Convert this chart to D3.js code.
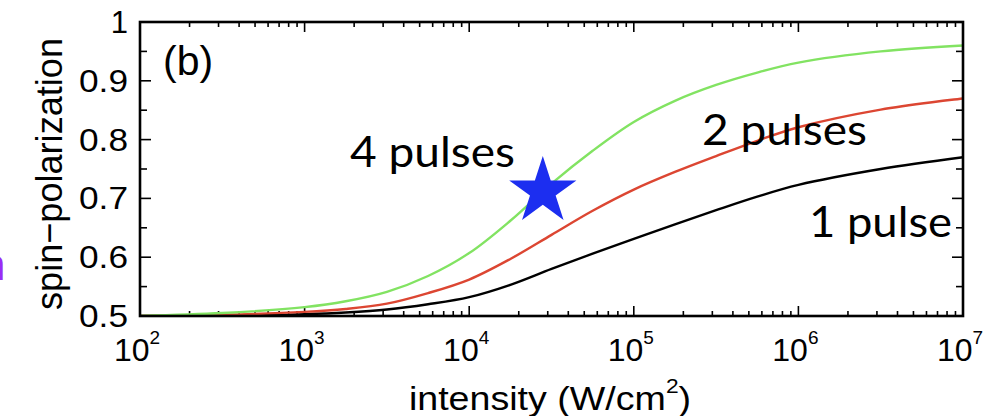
<!DOCTYPE html>
<html>
<head>
<meta charset="utf-8">
<script src="https://cdn.jsdelivr.net/npm/d3@7"></script>
<style>
html,body{margin:0;padding:0;background:#fff;}
svg{display:block;}
</style>
</head>
<body>
<svg id="chart" width="986" height="416"></svg>
<script>
// ---- data ----
const intensity = [100, 316, 1000, 1778, 3162, 5623, 10000, 17783, 31623, 56234, 100000, 177828, 316228, 562341, 1000000, 3162278, 10000000];
const onePulse  = [0.500, 0.500, 0.503, 0.506, 0.511, 0.520, 0.532, 0.553, 0.580, 0.606, 0.631, 0.656, 0.680, 0.703, 0.723, 0.750, 0.770];
const twoPulses = [0.500, 0.502, 0.507, 0.512, 0.521, 0.539, 0.562, 0.597, 0.638, 0.679, 0.715, 0.745, 0.772, 0.798, 0.821, 0.851, 0.870];
const fourPulses= [0.500, 0.505, 0.515, 0.525, 0.541, 0.568, 0.607, 0.662, 0.725, 0.781, 0.830, 0.866, 0.893, 0.914, 0.931, 0.950, 0.960];
const seriesNames = ["1 pulse", "2 pulses", "4 pulses"];
const seriesColors = ["#000000", "#dc4632", "#82e362"];
const starPoint = {intensity: 28000, value: 0.712};
const xTickExponents = [2, 3, 4, 5, 6, 7];
const yTickValues = [0.5, 0.6, 0.7, 0.8, 0.9, 1];
const yTickLabels = ["0.5", "0.6", "0.7", "0.8", "0.9", "1"];

// ---- layout ----
const svg = d3.select("#chart");
const L = 140, R = 963, T = 22, B = 316;
const x = d3.scaleLog().domain([1e2, 1e7]).range([L, R]);
const y = d3.scaleLinear().domain([0.5, 1]).range([B, T]);

// minor tick positions
const xMinor = [];
for (let e = 2; e < 7; e++) for (let m = 2; m <= 9; m++) xMinor.push(m * Math.pow(10, e));
const xMajor = xTickExponents.map(e => Math.pow(10, e));
const yMinor = d3.range(0.55, 1.0, 0.1);

const tickG = svg.append("g").attr("stroke", "#000").attr("stroke-width", 1.6);
function xTicks(yy, dir) {
  tickG.selectAll(null).data(xMajor).enter().append("line")
    .attr("x1", d => x(d)).attr("x2", d => x(d)).attr("y1", yy).attr("y2", yy + dir * 10);
  tickG.selectAll(null).data(xMinor).enter().append("line")
    .attr("x1", d => x(d)).attr("x2", d => x(d)).attr("y1", yy).attr("y2", yy + dir * 5);
}
function yTicks(xx, dir) {
  tickG.selectAll(null).data(yTickValues).enter().append("line")
    .attr("y1", d => y(d)).attr("y2", d => y(d)).attr("x1", xx).attr("x2", xx + dir * 11);
  tickG.selectAll(null).data(yMinor).enter().append("line")
    .attr("y1", d => y(d)).attr("y2", d => y(d)).attr("x1", xx).attr("x2", xx + dir * 7);
}
xTicks(B, -1); xTicks(T, 1); yTicks(L, 1); yTicks(R, -1);

// ---- curves ----
const line = d3.line().x(d => x(d[0])).y(d => y(d[1])).curve(d3.curveCatmullRom.alpha(0.5));
const allSeries = [onePulse, twoPulses, fourPulses];
svg.append("clipPath").attr("id", "clip").append("rect")
  .attr("x", L).attr("y", T).attr("width", R - L).attr("height", B - T);
svg.append("g").attr("clip-path", "url(#clip)")
  .selectAll("path").data(allSeries).enter().append("path")
  .attr("d", s => line(intensity.map((v, i) => [v, s[i]])))
  .attr("fill", "none")
  .attr("stroke", (s, i) => seriesColors[i])
  .attr("stroke-width", 2.4);

// frame
svg.append("rect").attr("x", L).attr("y", T).attr("width", R - L).attr("height", B - T)
  .attr("fill", "none").attr("stroke", "#000").attr("stroke-width", 2.6);

// ---- tick labels ----
const font = "'Liberation Sans', Arial, Helvetica, sans-serif";
const xl = svg.append("g").attr("font-family", font).attr("fill", "#000");
xTickExponents.forEach(e => {
  const t = xl.append("text").attr("x", x(Math.pow(10, e)) - 3).attr("y", 361)
    .attr("text-anchor", "middle").attr("font-size", 32);
  t.append("tspan").text("10");
  t.append("tspan").attr("font-size", 19).attr("dy", -17).text(String(e));
});
const yl = svg.append("g").attr("font-family", font).attr("fill", "#000");
yTickValues.forEach((v, i) => {
  const lab = yTickLabels[i];
  const t = yl.append("text").attr("x", 128).attr("y", y(v) + 11)
    .attr("text-anchor", "end").attr("font-size", 31).text(lab);
  if (lab.length > 1) t.attr("textLength", 49).attr("lengthAdjust", "spacingAndGlyphs");
});

// axis titles
const xt = svg.append("text").attr("x", 0).attr("y", 0).attr("text-anchor", "middle")
  .attr("transform", "translate(550,410) scale(1.14,1)")
  .attr("font-family", font).attr("font-size", 33);
xt.append("tspan").text("intensity (W/cm");
xt.append("tspan").attr("font-size", 20).attr("dy", -17).text("2");
xt.append("tspan").attr("dy", 17).text(")");

svg.append("text").attr("transform", "translate(62,174) rotate(-90)")
  .attr("text-anchor", "middle").attr("font-family", font).attr("font-size", 37)
  .attr("textLength", 272).attr("lengthAdjust", "spacingAndGlyphs")
  .text("spin\u2212polarization");

// panel label
svg.append("text").attr("x", 163).attr("y", 75).attr("font-family", font)
  .attr("font-size", 41).text("(b)");

// ---- annotations ----
const annFont = "Lato, 'Open Sans', sans-serif";
const annotations = [
  {text: seriesNames[2], x: 350, y: 167, len: 165},
  {text: seriesNames[1], x: 702, y: 145, len: 165},
  {text: seriesNames[0], x: 809, y: 237, len: 143}
];
svg.selectAll(".ann").data(annotations).enter().append("text")
  .attr("class", "ann")
  .attr("x", d => d.x).attr("y", d => d.y)
  .attr("font-family", annFont).attr("font-size", 43).attr("fill", "#000")
  .attr("textLength", d => d.len).attr("lengthAdjust", "spacingAndGlyphs")
  .text(d => d.text);

// star marker
svg.append("path")
  .attr("d", d3.symbol().type(d3.symbolStar).size(1400)())
  .attr("transform", `translate(${x(starPoint.intensity)},${y(starPoint.value)})`)
  .attr("fill", "#1c2ef0");

// cropped purple letter at the left edge (as in the reference)
svg.append("text").attr("x", -19).attr("y", 280).attr("font-family", font)
  .attr("font-size", 44).attr("fill", "#9a2cf5").text("n");
</script>
</body>
</html>
